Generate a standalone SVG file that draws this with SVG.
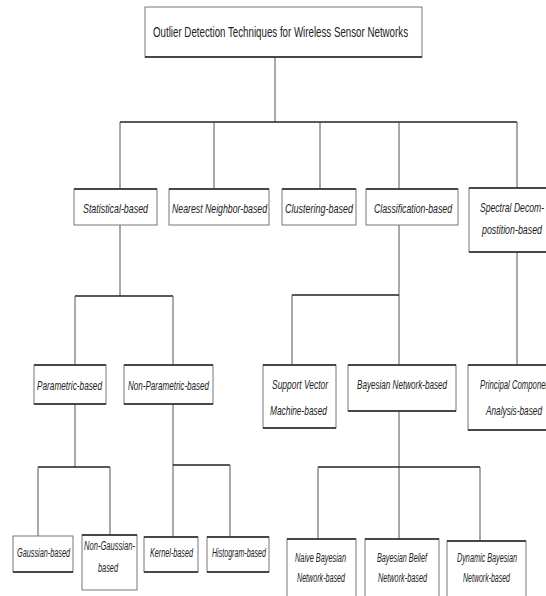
<svg xmlns="http://www.w3.org/2000/svg" width="546" height="596" viewBox="0 0 546 596">
<style>
.box{fill:#fff;stroke:#777;stroke-width:1}
.edge{stroke:#222;stroke-width:1.6;fill:none}
.t{font-family:"Liberation Sans",Arial,sans-serif;font-size:13px;font-style:italic;fill:#222}
.s{font-size:12px}
.title{font-family:"Liberation Sans",Arial,sans-serif;font-size:14px;fill:#222}
.c{stroke:#555;stroke-width:1;fill:none}
.bus{stroke:#222;stroke-width:1.6;fill:none}
</style>
<rect width="546" height="596" fill="#fff"/>
<g id="connectors">
<line class="c" x1="275" y1="57" x2="275" y2="122"/>
<line class="bus" x1="120" y1="122" x2="517" y2="122"/>
<line class="c" x1="120" y1="122" x2="120" y2="189"/>
<line class="c" x1="214" y1="122" x2="214" y2="189"/>
<line class="c" x1="320" y1="122" x2="320" y2="189"/>
<line class="c" x1="399" y1="122" x2="399" y2="189"/>
<line class="c" x1="517" y1="122" x2="517" y2="188"/>
<line class="c" x1="120" y1="225" x2="120" y2="296"/>
<line class="bus" x1="75" y1="296" x2="173" y2="296"/>
<line class="c" x1="75" y1="296" x2="75" y2="365"/>
<line class="c" x1="173" y1="296" x2="173" y2="365"/>
<line class="c" x1="399" y1="225" x2="399" y2="365"/>
<line class="bus" x1="292" y1="295" x2="399" y2="295"/>
<line class="c" x1="292" y1="295" x2="292" y2="365"/>
<line class="c" x1="517" y1="252" x2="517" y2="365"/>
<line class="c" x1="75" y1="404" x2="75" y2="467"/>
<line class="bus" x1="38" y1="467" x2="110" y2="467"/>
<line class="c" x1="38" y1="467" x2="38" y2="536"/>
<line class="c" x1="110" y1="467" x2="110" y2="535"/>
<line class="c" x1="173" y1="404" x2="173" y2="537"/>
<line class="bus" x1="173" y1="465" x2="230" y2="465"/>
<line class="c" x1="230" y1="465" x2="230" y2="537"/>
<line class="c" x1="399" y1="411" x2="399" y2="539"/>
<line class="bus" x1="318" y1="467" x2="480" y2="467"/>
<line class="c" x1="318" y1="467" x2="318" y2="539"/>
<line class="c" x1="480" y1="467" x2="480" y2="541"/>
</g>
<g id="root">
<rect class="box" x="145" y="7" width="277" height="50"/>
<line class="edge" x1="145" y1="57" x2="422" y2="57"/>
<text class="title" x="153" y="37" textLength="255" lengthAdjust="spacingAndGlyphs">Outlier Detection Techniques for Wireless Sensor Networks</text>
</g>
<g id="statistical">
<rect class="box" x="74" y="189" width="83" height="36"/>
<line class="edge" x1="74" y1="189" x2="157" y2="189"/>
<text class="t" x="83" y="213" textLength="65" lengthAdjust="spacingAndGlyphs">Statistical-based</text>
</g>
<g id="nearest">
<rect class="box" x="169" y="189" width="100" height="36"/>
<line class="edge" x1="169" y1="189" x2="269" y2="189"/>
<text class="t" x="172" y="213" textLength="95" lengthAdjust="spacingAndGlyphs">Nearest Neighbor-based</text>
</g>
<g id="clustering">
<rect class="box" x="282" y="189" width="74" height="36"/>
<line class="edge" x1="282" y1="189" x2="356" y2="189"/>
<text class="t" x="285" y="213" textLength="68" lengthAdjust="spacingAndGlyphs">Clustering-based</text>
</g>
<g id="classification">
<rect class="box" x="366" y="189" width="92" height="36"/>
<line class="edge" x1="366" y1="189" x2="458" y2="189"/>
<text class="t" x="374" y="213" textLength="78" lengthAdjust="spacingAndGlyphs">Classification-based</text>
</g>
<g id="spectral">
<rect class="box" x="469" y="188" width="90" height="64"/>
<line class="edge" x1="469" y1="188" x2="546" y2="188"/>
<line class="edge" x1="469" y1="252" x2="546" y2="252"/>
<text class="t" x="480" y="212" textLength="64" lengthAdjust="spacingAndGlyphs">Spectral Decom-</text>
<text class="t" x="482" y="234" textLength="60" lengthAdjust="spacingAndGlyphs">postition-based</text>
</g>
<g id="parametric">
<rect class="box" x="34" y="365" width="72" height="39"/>
<line class="edge" x1="34" y1="365" x2="106" y2="365"/>
<line class="edge" x1="34" y1="404" x2="106" y2="404"/>
<text class="t" x="37" y="390" textLength="65" lengthAdjust="spacingAndGlyphs">Parametric-based</text>
</g>
<g id="nonparametric">
<rect class="box" x="124" y="365" width="89" height="39"/>
<line class="edge" x1="124" y1="365" x2="213" y2="365"/>
<line class="edge" x1="124" y1="404" x2="213" y2="404"/>
<text class="t" x="128" y="390" textLength="81" lengthAdjust="spacingAndGlyphs">Non-Parametric-based</text>
</g>
<g id="svm">
<rect class="box" x="263" y="365" width="73" height="63"/>
<line class="edge" x1="263" y1="365" x2="336" y2="365"/>
<line class="edge" x1="263" y1="428" x2="336" y2="428"/>
<text class="t" x="272" y="389" textLength="56" lengthAdjust="spacingAndGlyphs">Support Vector</text>
<text class="t" x="270" y="415" textLength="57" lengthAdjust="spacingAndGlyphs">Machine-based</text>
</g>
<g id="bayesian">
<rect class="box" x="348" y="365" width="108" height="46"/>
<line class="edge" x1="348" y1="365" x2="456" y2="365"/>
<line class="edge" x1="348" y1="411" x2="456" y2="411"/>
<text class="t" x="357" y="389" textLength="90" lengthAdjust="spacingAndGlyphs">Bayesian Network-based</text>
</g>
<g id="pca">
<rect class="box" x="468" y="365" width="90" height="65"/>
<line class="edge" x1="468" y1="365" x2="546" y2="365"/>
<line class="edge" x1="468" y1="430" x2="546" y2="430"/>
<text class="t" x="480" y="389" textLength="72" lengthAdjust="spacingAndGlyphs">Principal Component</text>
<text class="t" x="486" y="415" textLength="56" lengthAdjust="spacingAndGlyphs">Analysis-based</text>
</g>
<g id="gaussian">
<rect class="box" x="13" y="536" width="60" height="36"/>
<line class="edge" x1="13" y1="572" x2="73" y2="572"/>
<text class="t s" x="17" y="557" textLength="53" lengthAdjust="spacingAndGlyphs">Gaussian-based</text>
</g>
<g id="nongaussian">
<rect class="box" x="82" y="535" width="55" height="55"/>
<line class="edge" x1="82" y1="535" x2="137" y2="535"/>
<text class="t s" x="84" y="550" textLength="51" lengthAdjust="spacingAndGlyphs">Non-Gaussian-</text>
<text class="t s" x="98" y="572" textLength="20" lengthAdjust="spacingAndGlyphs">based</text>
</g>
<g id="kernel">
<rect class="box" x="144" y="537" width="54" height="35"/>
<line class="edge" x1="144" y1="537" x2="198" y2="537"/>
<line class="edge" x1="144" y1="572" x2="198" y2="572"/>
<text class="t s" x="150" y="557" textLength="43" lengthAdjust="spacingAndGlyphs">Kernel-based</text>
</g>
<g id="histogram">
<rect class="box" x="207" y="537" width="62" height="35"/>
<line class="edge" x1="207" y1="537" x2="269" y2="537"/>
<line class="edge" x1="207" y1="572" x2="269" y2="572"/>
<text class="t s" x="212" y="557" textLength="54" lengthAdjust="spacingAndGlyphs">Histogram-based</text>
</g>
<g id="naive">
<rect class="box" x="287" y="539" width="69" height="60"/>
<line class="edge" x1="287" y1="539" x2="356" y2="539"/>
<text class="t s" x="295" y="562" textLength="51" lengthAdjust="spacingAndGlyphs">Naive Bayesian</text>
<text class="t s" x="297" y="582" textLength="48" lengthAdjust="spacingAndGlyphs">Network-based</text>
</g>
<g id="belief">
<rect class="box" x="365" y="539" width="74" height="60"/>
<line class="edge" x1="365" y1="539" x2="439" y2="539"/>
<text class="t s" x="377" y="562" textLength="50" lengthAdjust="spacingAndGlyphs">Bayesian Belief</text>
<text class="t s" x="378" y="582" textLength="49" lengthAdjust="spacingAndGlyphs">Network-based</text>
</g>
<g id="dynamic">
<rect class="box" x="447" y="541" width="79" height="58"/>
<line class="edge" x1="447" y1="541" x2="526" y2="541"/>
<text class="t s" x="457" y="562" textLength="60" lengthAdjust="spacingAndGlyphs">Dynamic Bayesian</text>
<text class="t s" x="463" y="582" textLength="47" lengthAdjust="spacingAndGlyphs">Network-based</text>
</g>
</svg>
